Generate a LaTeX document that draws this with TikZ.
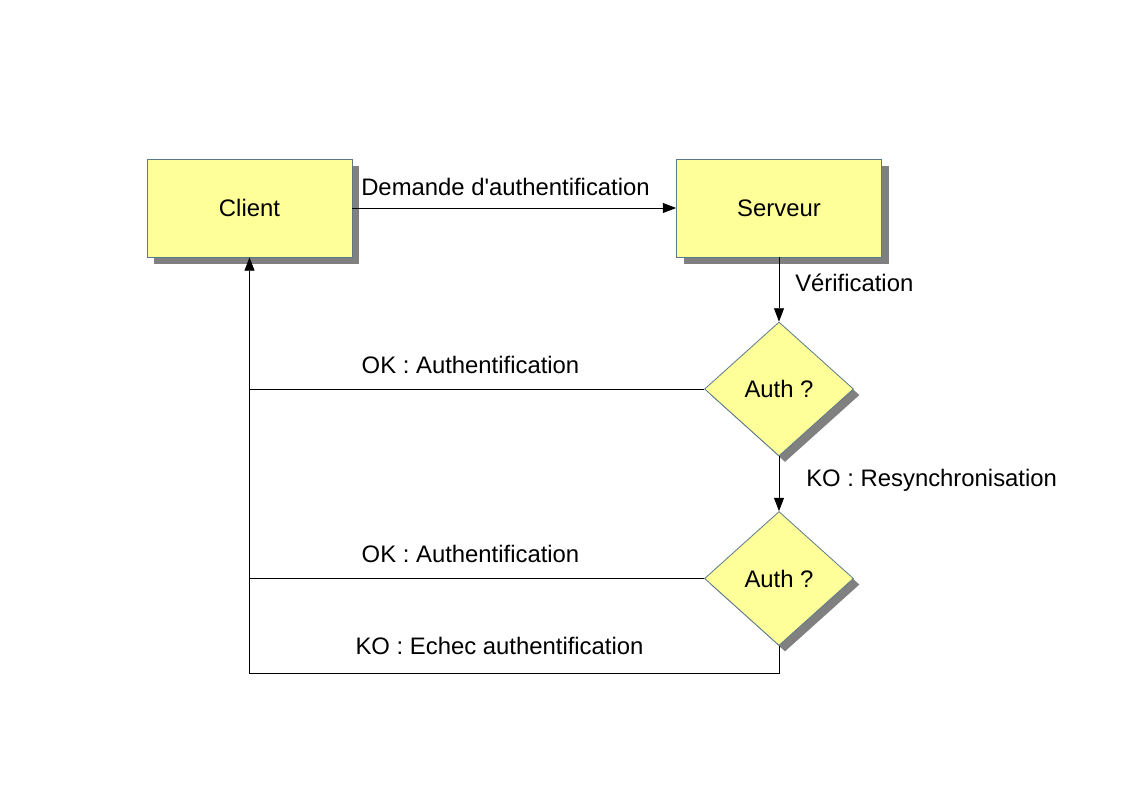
\documentclass[tikz,border=0pt]{standalone}
\usepackage{fontspec}
\setmainfont{Liberation Sans}
\newfontfamily\plainfont{Liberation Sans}
\usetikzlibrary{shapes.geometric,shadows,arrows.meta}
\definecolor{boxfill}{HTML}{FFFF99}
\definecolor{boxline}{HTML}{5A7A8A}
\definecolor{shadowgray}{HTML}{808080}
\tikzset{
  px/.style={x=0.75pt,y=-0.75pt},
  txt/.style={font=\plainfont\fontsize{17.9}{20}\selectfont},
  procbox/.style={txt,draw=boxline,fill=boxfill,line width=0.6pt,minimum width=153.75pt,minimum height=73.5pt,inner sep=0pt,
    drop shadow={shadow xshift=5.25pt,shadow yshift=-5.25pt,fill=shadowgray,opacity=1}},
  decision/.style={txt,diamond,draw=boxline,fill=boxfill,line width=0.6pt,minimum width=111.75pt,minimum height=100.5pt,inner sep=0pt,
    drop shadow={shadow xshift=4.5pt,shadow yshift=-4.5pt,fill=shadowgray,opacity=1}},
  conn/.style={line width=0.6pt,black},
  arr/.style={conn,-{Triangle[length=10pt,width=7.5pt]}},
  lbl/.style={txt,inner sep=0pt},
}
\begin{document}
\begin{tikzpicture}[px]
\useasboundingbox (0,0) rectangle (1123,794);
\fill[white] (0,0) rectangle (1123,794);
\node[procbox] (client) at (249.5,208) {Client};
\node[procbox] (serveur) at (779,208) {Serveur};
\node[decision] (d1) at (779,389) {Auth ?};
\node[decision] (d2) at (779,578.5) {Auth ?};
\coordinate (bl) at (249.5,673);

\draw[arr] (client.east) -- (serveur.west);
\draw[arr] (serveur.south) -- (d1.north);
\draw[arr] (d1.south) -- (d2.north);
\draw[conn] (d1.west) -- (d1.west -| client.south);
\draw[conn] (d2.west) -- (d2.west -| client.south);
\draw[arr] (d2.south) |- (bl) -- (client.south);

\node[lbl] (l1) at (505.5,187) {Demande d'authentification};
\node[lbl,anchor=west] (l2) at (795,283) {Vérification};
\node[lbl] (l3) at (470.5,365) {OK : Authentification};
\node[lbl,anchor=west] (l4) at (806,480) {KO : Resynchronisation};
\node[lbl] (l5) at (470.5,554) {OK : Authentification};
\node[lbl] (l6) at (499.5,646) {KO : Echec authentification};
\end{tikzpicture}
\end{document}
